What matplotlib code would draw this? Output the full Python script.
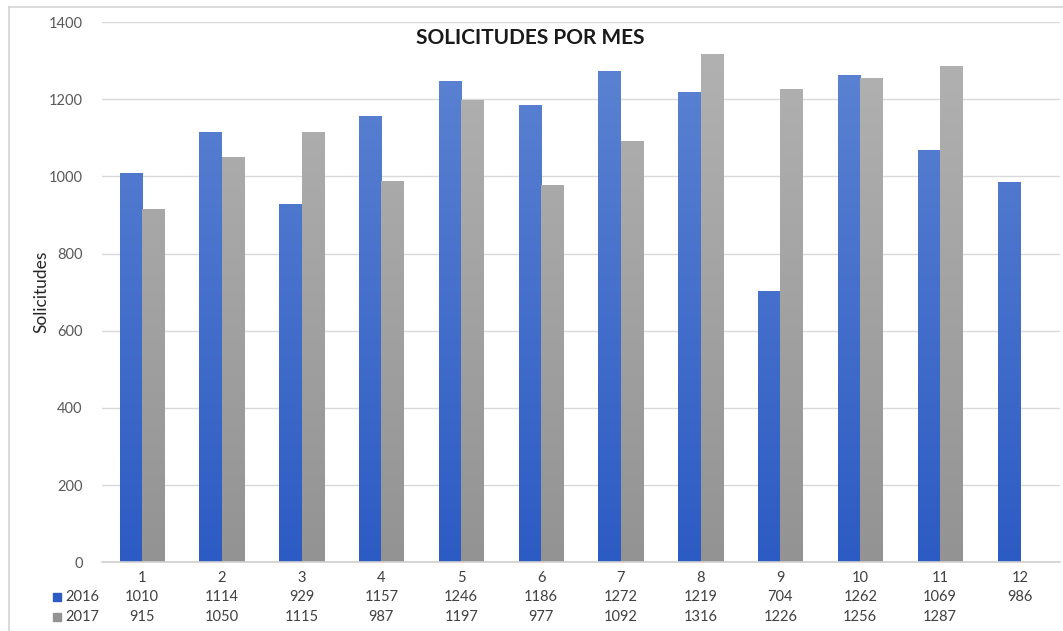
import matplotlib
matplotlib.use("Agg")
import matplotlib.pyplot as plt
import numpy as np
from matplotlib.patches import Rectangle
from matplotlib.lines import Line2D
from matplotlib.colors import LinearSegmentedColormap
import matplotlib.transforms as mtransforms

plt.rcParams['font.family'] = ['Lato', 'DejaVu Sans']

meses = ['1', '2', '3', '4', '5', '6', '7', '8', '9', '10', '11', '12']
v2016 = [1010, 1114, 929, 1157, 1246, 1186, 1272, 1219, 704, 1262, 1069, 986]
v2017 = [915, 1050, 1115, 987, 1197, 977, 1092, 1316, 1226, 1256, 1287, None]
series = ['2016', '2017']

blue_top, blue_bot = '#5f85d3', '#2c5bc3'
gray_top, gray_bot = '#b3b3b3', '#939393'

fig = plt.figure(figsize=(10.63, 6.31), dpi=100)
ax = fig.add_axes([0.096, 0.109, 0.901, 0.856])

x = np.arange(len(meses))
w = 0.28


def grad_bars(xs, vals, c_top, c_bot, offset):
    cmap = LinearSegmentedColormap.from_list('g', [c_bot, c_top])
    grad = np.linspace(0, 1, 256).reshape(-1, 1)
    for xi, v in zip(xs, vals):
        if v is None:
            continue
        bar = ax.bar(xi + offset, v, w, color=c_bot, linewidth=0, zorder=2)[0]
        x0, y0 = bar.get_x(), bar.get_y()
        im = ax.imshow(grad, cmap=cmap, origin='lower', aspect='auto',
                       extent=[x0, x0 + w, y0, y0 + 1400], zorder=3)
        im.set_clip_path(bar)


grad_bars(x, v2016, blue_top, blue_bot, -w / 2)
grad_bars(x, v2017, gray_top, gray_bot, w / 2)

ax.set_xlim(-0.5, len(meses) - 0.5)
ax.set_ylim(0, 1400)
ax.set_yticks(np.arange(0, 1401, 200))
ax.tick_params(axis='y', length=0, labelsize=10.5, labelcolor='#595959', pad=14)
ax.set_xticks([])
ax.grid(axis='y', color='#d9d9d9', linewidth=1, zorder=0)
ax.set_axisbelow(True)
for s in ['top', 'right', 'left']:
    ax.spines[s].set_visible(False)
ax.spines['bottom'].set_color('#d0d0d0')
ax.spines['bottom'].set_linewidth(1.2)
ax.spines['bottom'].set_zorder(4)

ax.set_ylabel('Solicitudes', fontsize=12.5, color='#262626')
ax.yaxis.set_label_coords(-0.055, 0.5)

fig.text(0.499, 0.940, 'SOLICITUDES POR MES', fontsize=15, fontweight='bold',
         ha='center', va='center', color='#1a1a1a')

# data table under the axis
trans = mtransforms.blended_transform_factory(ax.transData, fig.transFigure)
row_y = [1 - 578 / 631, 1 - 597 / 631, 1 - 617 / 631]
for xi, m in zip(x, meses):
    ax.text(xi, row_y[0], m, transform=trans, ha='center', va='center',
            fontsize=10.5, color='#404040')
for r, (name, vals, col) in enumerate([(series[0], v2016, blue_bot),
                                        (series[1], v2017, gray_bot)]):
    yy = row_y[r + 1]
    for xi, v in zip(x, vals):
        if v is not None:
            ax.text(xi, yy, str(v), transform=trans, ha='center', va='center',
                    fontsize=10.5, color='#404040')
    fig.patches.append(Rectangle((53 / 1063, yy - 4 / 631), 8 / 1063, 8 / 631,
                                 transform=fig.transFigure, color=col))
    fig.text(65 / 1063, yy, name, ha='left', va='center', fontsize=10.5,
             color='#404040')

# chart area border (top and left edges)
bx, by = 8.5 / 1063, 1 - 6.5 / 631
fig.add_artist(Line2D([bx, 1.0], [by, by], transform=fig.transFigure,
                      color='#d4d4d4', linewidth=1.2))
fig.add_artist(Line2D([bx, bx], [0.0, by], transform=fig.transFigure,
                      color='#d4d4d4', linewidth=1.2))

fig.savefig('out.png', dpi=100)
